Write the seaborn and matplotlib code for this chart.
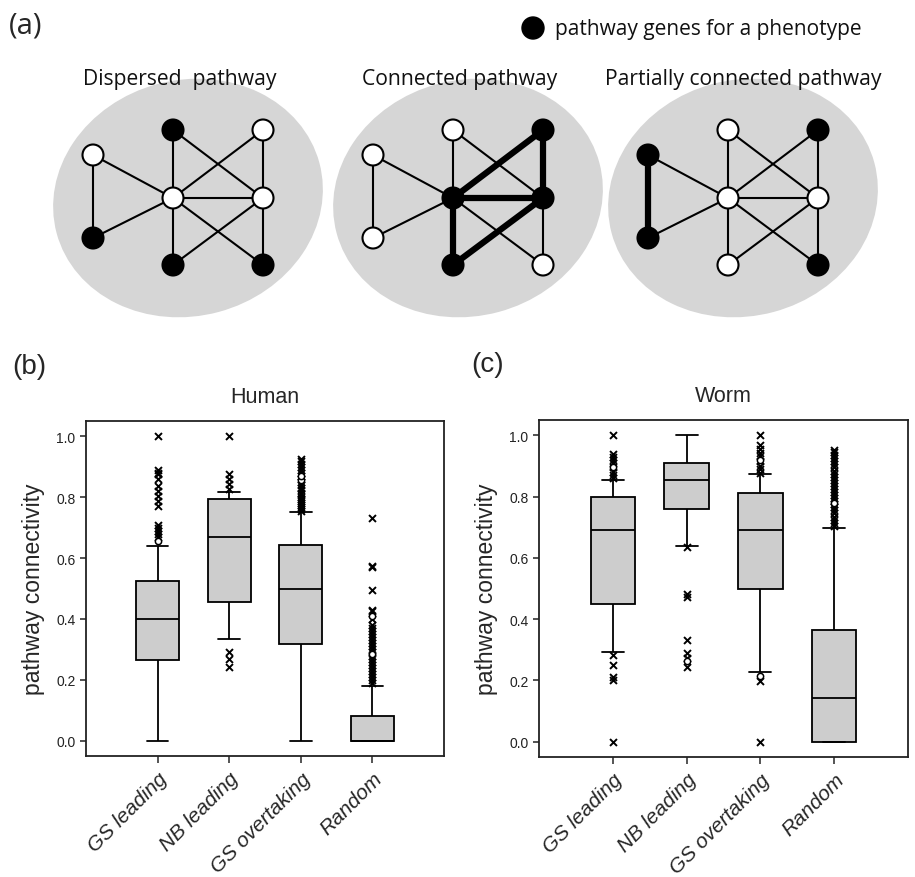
import matplotlib
matplotlib.use('Agg')
import matplotlib.pyplot as plt
from matplotlib.patches import Ellipse, Circle
import seaborn as sns
import pandas as pd

# ---- panel (a): toy network, node layout shared by the three pathways ----
node_x = [173, 263, 93, 173, 263, 93, 173, 263]
node_y = [131, 131, 156, 199, 199, 239, 266, 266]
edges = [(2, 5), (2, 3), (5, 3), (0, 3), (3, 6), (1, 4), (4, 7), (3, 4),
         (0, 4), (1, 3), (3, 7), (4, 6)]
net_titles = ['Dispersed  pathway', 'Connected pathway', 'Partially connected pathway']
net_black = [[0, 5, 6, 7], [1, 3, 4, 6], [1, 2, 5, 7]]
net_thick = [[], [(1, 3), (1, 4), (3, 4), (3, 6), (4, 6)], [(2, 5)]]
net_offset = [0, 280, 555]

# ---- panels (b) and (c): box summaries [whisker low, Q1, median, Q3, whisker high] ----
methods = ['GS leading', 'NB leading', 'GS overtaking', 'Random']

human_box = {
    'GS leading': [0.0, 0.265, 0.40, 0.525, 0.64],
    'NB leading': [0.334, 0.457, 0.67, 0.793, 0.817],
    'GS overtaking': [0.0, 0.319, 0.498, 0.643, 0.75],
    'Random': [0.0, 0.0, 0.0, 0.081, 0.181],
}
human_out = {
    'GS leading': [1.0, 0.889, 0.88, 0.875, 0.859, 0.837, 0.82, 0.804, 0.788, 0.772,
                   0.708, 0.70, 0.69, 0.68, 0.668],
    'NB leading': [1.0, 0.875, 0.861, 0.843, 0.826, 0.291, 0.267, 0.242],
    'GS overtaking': [0.755, 0.76, 0.768, 0.775, 0.78, 0.788, 0.795, 0.80, 0.81, 0.815,
                      0.823, 0.83, 0.84, 0.85, 0.86, 0.87, 0.88, 0.89, 0.90, 0.91,
                      0.918, 0.925],
    'Random': [0.19, 0.20, 0.21, 0.22, 0.23, 0.24, 0.25, 0.26, 0.27, 0.28, 0.29, 0.30,
               0.31, 0.32, 0.33, 0.34, 0.35, 0.36, 0.37, 0.38, 0.40, 0.425, 0.43,
               0.495, 0.57, 0.575, 0.733],
}
human_ring = {
    'GS leading': [0.655],
    'GS overtaking': [0.855, 0.87],
    'Random': [0.285, 0.41],
}

worm_box = {
    'GS leading': [0.294, 0.449, 0.69, 0.799, 0.854],
    'NB leading': [0.64, 0.761, 0.854, 0.911, 1.0],
    'GS overtaking': [0.229, 0.50, 0.69, 0.811, 0.875],
    'Random': [0.0, 0.0, 0.142, 0.363, 0.698],
}
worm_out = {
    'GS leading': [1.0, 0.938, 0.93, 0.92, 0.91, 0.895, 0.88, 0.87, 0.862,
                   0.284, 0.251, 0.21, 0.20, 0.0],
    'NB leading': [0.635, 0.482, 0.472, 0.333, 0.289, 0.273, 0.245],
    'GS overtaking': [1.0, 0.97, 0.956, 0.943, 0.932, 0.916, 0.90, 0.889, 0.878,
                      0.199, 0.0],
    'Random': [0.705, 0.715, 0.725, 0.735, 0.745, 0.755, 0.765, 0.775, 0.785, 0.795,
               0.805, 0.815, 0.825, 0.835, 0.845, 0.855, 0.865, 0.875, 0.885, 0.895,
               0.905, 0.915, 0.925, 0.935, 0.945, 0.953],
}
worm_ring = {
    'GS leading': [0.898],
    'NB leading': [0.262],
    'GS overtaking': [0.92, 0.213],
    'Random': [0.78],
}

sns.set_style('white')
plt.rcParams['font.family'] = ['Liberation Sans', 'DejaVu Sans']

W, H = 915, 878
fig = plt.figure(figsize=(W / 100, H / 100), dpi=100)


def long_df(d):
    rows = [(k, v) for k in methods for v in d.get(k, [])]
    return pd.DataFrame(rows, columns=['method', 'value'])


# ---------------- panel (a) ----------------
ax_a = fig.add_axes([0, 1 - 330 / H, 1, 330 / H])
ax_a.set_xlim(0, W)
ax_a.set_ylim(330, 0)
ax_a.axis('off')

for k in range(3):
    dx = net_offset[k]
    ax_a.add_patch(Ellipse((188 + dx, 199), 272, 236, angle=-15,
                           facecolor='#d6d6d6', edgecolor='none', zorder=0))
    thick = [tuple(sorted(e)) for e in net_thick[k]]
    for a, b in edges:
        lw = 4.5 if tuple(sorted((a, b))) in thick else 1.5
        ax_a.plot([node_x[a] + dx, node_x[b] + dx], [node_y[a], node_y[b]],
                  color='black', lw=lw, solid_capstyle='butt', zorder=1)
    for i in range(len(node_x)):
        fc = 'black' if i in net_black[k] else 'white'
        ax_a.add_patch(Circle((node_x[i] + dx, node_y[i]), 10.5, facecolor=fc,
                              edgecolor='black', lw=1.5, zorder=2))
    ax_a.text(187 + dx - 7 + (k == 2) * 8, 80, net_titles[k], ha='center', va='center',
              fontsize=15.2, family=['Open Sans', 'DejaVu Sans'], color='#111111',
              zorder=3)

ax_a.add_patch(Circle((533, 29), 11, facecolor='black', edgecolor='black'))
ax_a.text(555, 30, 'pathway genes for a phenotype', ha='left', va='center',
          fontsize=15, family=['Open Sans', 'DejaVu Sans'], color='#111111')
fig.text(9 / W, 1 - 26 / H, '(a)', fontsize=21, ha='left', va='center',
         family=['Open Sans', 'DejaVu Sans'])
fig.text(12 / W, 1 - 367 / H, '(b)', fontsize=20, ha='left', va='center')
fig.text(471 / W, 1 - 365 / H, '(c)', fontsize=20, ha='left', va='center')


# ---------------- panels (b) and (c) ----------------
def box_panel(rect, box, out, ring, title):
    ax = fig.add_axes(rect)
    sns.boxplot(data=long_df(box), x='method', y='value', order=methods,
                whis=(0, 100), width=0.6, color='#cdcdcd', linecolor='black',
                linewidth=1.3, fliersize=0, saturation=1, ax=ax)
    sns.stripplot(data=long_df(out), x='method', y='value', order=methods,
                  jitter=False, marker='x', color='black', size=5, linewidth=1.4,
                  ax=ax, zorder=4)
    sns.stripplot(data=long_df(ring), x='method', y='value', order=methods,
                  jitter=False, marker='o', color='white', edgecolor='black',
                  size=4.5, linewidth=1.1, ax=ax, zorder=5)
    ax.set_xlim(-1, 4)
    ax.set_ylim(-0.05, 1.05)
    ax.set_yticks([0.0, 0.2, 0.4, 0.6, 0.8, 1.0])
    ax.set_yticklabels(['0.0', '0.2', '0.4', '0.6', '0.8', '1.0'])
    ax.tick_params(axis='y', which='both', left=True, length=4, width=1.1,
                   labelsize=10, colors='#222222', direction='out')
    ax.tick_params(axis='x', which='both', bottom=True, length=5, width=1.1,
                   direction='out', pad=4)
    ax.set_xticks(range(len(methods)))
    ax.set_xticklabels(methods, rotation=45, ha='right', rotation_mode='anchor',
                       fontsize=15, style='italic')
    for s in ax.spines.values():
        s.set_color('#222222')
        s.set_linewidth(1.3)
    ax.set_xlabel('')
    ax.set_ylabel('pathway connectivity', fontsize=16.5, labelpad=8)
    ax.set_title(title, fontsize=15.5, pad=14)
    return ax


box_panel([86 / W, 1 - 757 / H, 358 / W, 335 / H], human_box, human_out, human_ring, 'Human')
box_panel([539 / W, 1 - 758 / H, 369 / W, 337 / H], worm_box, worm_out, worm_ring, 'Worm')

fig.savefig('out.png', dpi=100)
